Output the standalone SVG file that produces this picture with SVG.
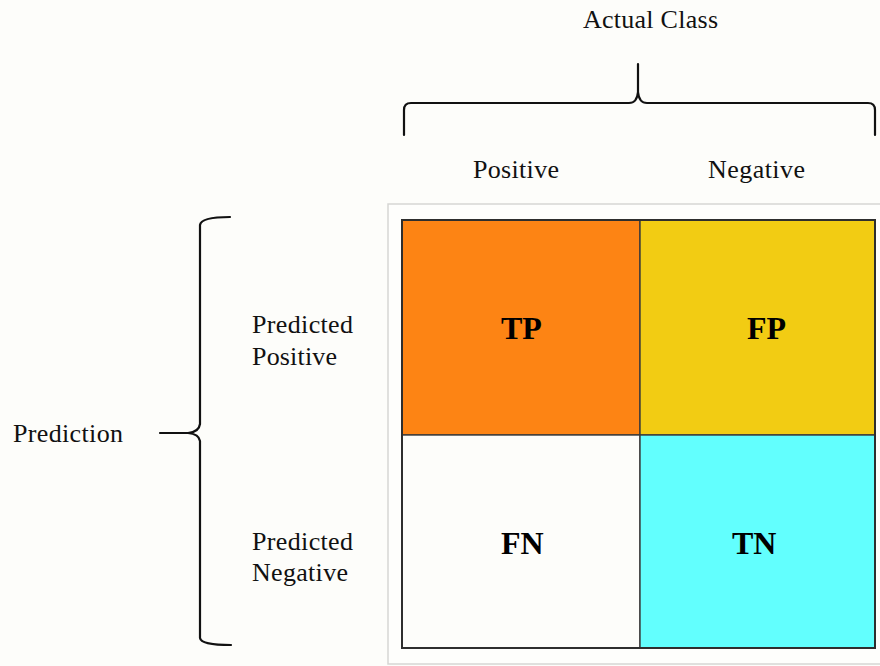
<svg xmlns="http://www.w3.org/2000/svg" width="880" height="666" viewBox="0 0 880 666">
  <style>
    .lbl { font-family: "Liberation Serif", "Times New Roman", serif; font-size: 26px; fill: #111; }
    .cell-lbl { font-family: "Liberation Serif", "Times New Roman", serif; font-size: 32px; font-weight: bold; fill: #000; }
    .brace { fill: none; stroke: #111; stroke-width: 2.2; stroke-linecap: round; stroke-linejoin: round; }
    .cell { stroke: #3a3a3a; stroke-width: 1.4; }
  </style>

  <rect width="880" height="666" fill="#fdfdfa"/>

  <!-- header labels -->
  <text class="lbl" x="583" y="28" textLength="135" lengthAdjust="spacing">Actual Class</text>
  <text class="lbl" x="473" y="178" textLength="86" lengthAdjust="spacing">Positive</text>
  <text class="lbl" x="708" y="178" textLength="97" lengthAdjust="spacing">Negative</text>

  <!-- row labels -->
  <text class="lbl" x="13" y="442" textLength="110" lengthAdjust="spacing">Prediction</text>
  <text class="lbl" x="252" y="333" textLength="101" lengthAdjust="spacing">Predicted</text>
  <text class="lbl" x="252" y="365" textLength="85" lengthAdjust="spacing">Positive</text>
  <text class="lbl" x="252" y="550" textLength="101" lengthAdjust="spacing">Predicted</text>
  <text class="lbl" x="252" y="581" textLength="96" lengthAdjust="spacing">Negative</text>

  <!-- braces -->
  <g id="connectors">
    <path class="brace" d="M404,135 V110 Q404,103 411,103 H629 Q637,103 638,92 V64 M638,92 Q639,103 647,103 H868 Q875,103 875,110 V135"/>
    <path class="brace" d="M230,217 Q201,217 200,225 V424 Q199,432 188,433 H160 M188,433 Q199,434 200,441 V638 Q201,645 231,645"/>
  </g>

  <!-- backing panel -->
  <rect x="388" y="204" width="510" height="460" fill="#fefefc" stroke="#d6d6d4" stroke-width="1.5"/>

  <!-- matrix cells -->
  <g id="tp">
    <rect class="cell" x="402" y="220" width="238" height="215" fill="#fd8414"/>
    <text class="cell-lbl" x="501" y="339">TP</text>
  </g>
  <g id="fp">
    <rect class="cell" x="640" y="220" width="235" height="215" fill="#f2cc13"/>
    <text class="cell-lbl" x="747" y="339">FP</text>
  </g>
  <g id="fn">
    <rect class="cell" x="402" y="435" width="238" height="213" fill="#fdfdfa"/>
    <text class="cell-lbl" x="501" y="554">FN</text>
  </g>
  <g id="tn">
    <rect class="cell" x="640" y="435" width="235" height="213" fill="#62fffe"/>
    <text class="cell-lbl" x="732" y="554">TN</text>
  </g>
  <rect x="402" y="220" width="473" height="428" fill="none" stroke="#2e2e2e" stroke-width="2"/>
</svg>
